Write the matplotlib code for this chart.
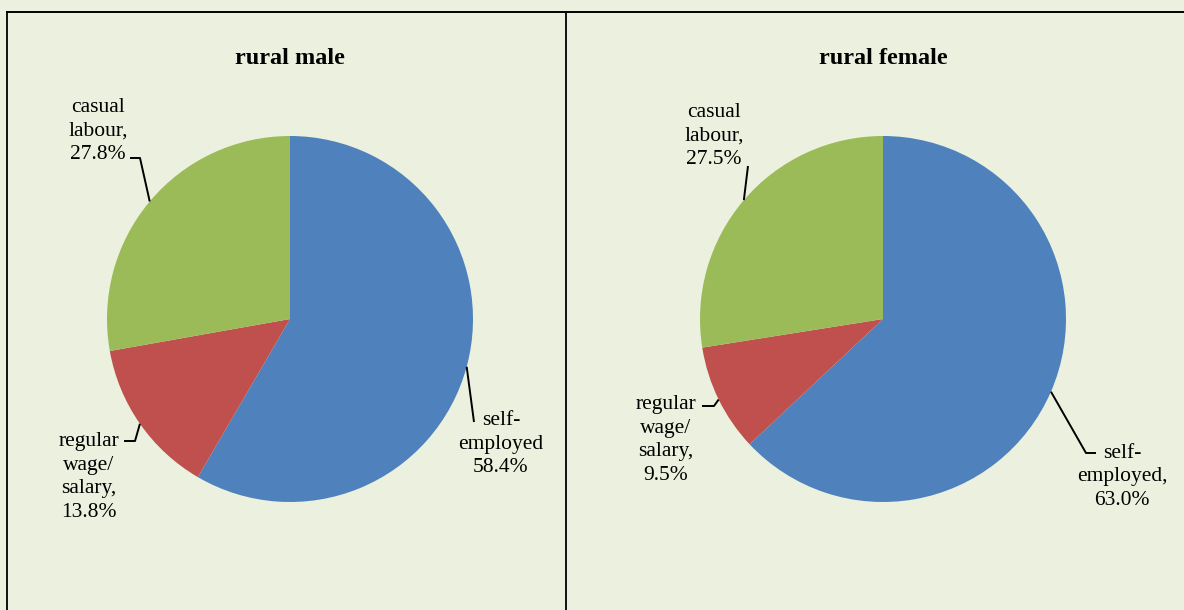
import matplotlib
matplotlib.use('Agg')
import matplotlib.pyplot as plt
import numpy as np

# ---- data ----
panel_titles = ['rural male', 'rural female']
categories = ['self-employed', 'regular wage/salary', 'casual labour']
male_values = [58.4, 13.8, 27.8]
female_values = [63.0, 9.5, 27.5]
male_names = ['self-\nemployed', 'regular\nwage/\nsalary,', 'casual\nlabour,']
female_names = ['self-\nemployed,', 'regular\nwage/\nsalary,', 'casual\nlabour,']
colors = ['#4F81BD', '#C0504D', '#9BBB59']

# ---- layout (pixel coordinates, y measured from top) ----
W, H = 1184, 610
BG = '#EBF1DE'
pie_centers = [(290, 319), (883, 319)]
pie_radius = 183
title_pos = [(290, 58), (883, 58)]
label_pos = [
    [(501, 444), (89, 477), (98, 131)],
    [(1122, 477), (666, 440), (714, 136)],
]
# elbow points of leader lines: list of intermediate points from pie edge to label
leader_pts = [
    [[(474, 422)], [(135, 441), (124, 441)], [(140, 158), (130, 158)]],
    [[(1086, 453), (1096, 453)], [(714, 406), (702, 406)], [(748, 166)]],
]

plt.rcParams['font.family'] = ['Liberation Serif', 'DejaVu Serif']

fig = plt.figure(figsize=(W / 100, H / 100), dpi=100)
fig.patch.set_facecolor(BG)
ax = fig.add_axes([0, 0, 1, 1])
ax.set_facecolor(BG)


def Y(py):
    return H - py


for i, (values, names) in enumerate([(male_values, male_names), (female_values, female_names)]):
    cx, cy = pie_centers[i]
    wedges, _ = ax.pie(values, colors=colors, startangle=90, counterclock=False,
                       center=(cx, Y(cy)), radius=pie_radius, frame=True,
                       wedgeprops=dict(linewidth=0))
    ax.text(title_pos[i][0], Y(title_pos[i][1]), panel_titles[i], ha='center', va='center',
            fontsize=17.5, fontweight='bold', color='black')
    for j, (w, name, v) in enumerate(zip(wedges, names, values)):
        mid = np.deg2rad((w.theta1 + w.theta2) / 2)
        ex = w.center[0] + w.r * np.cos(mid)
        ey = w.center[1] + w.r * np.sin(mid)
        xs = [ex] + [p[0] for p in leader_pts[i][j]]
        ys = [ey] + [Y(p[1]) for p in leader_pts[i][j]]
        ax.plot(xs, ys, color='black', lw=1.4, solid_capstyle='butt')
        lx, ly = label_pos[i][j]
        ax.text(lx, Y(ly), f'{name}\n{v:.1f}%', ha='center', va='center',
                fontsize=15.5, linespacing=1.33, color='black')

# frame lines
ax.plot([7, W], [Y(11.5), Y(11.5)], color='black', lw=1.4)
ax.plot([7, 7], [Y(11.5), 0], color='black', lw=1.3)
ax.plot([566, 566], [Y(11.5), 0], color='black', lw=1.3)

ax.set_xlim(0, W)
ax.set_ylim(0, H)
ax.set_aspect('auto')
ax.axis('off')

fig.savefig('out.png', dpi=100, facecolor=BG)
